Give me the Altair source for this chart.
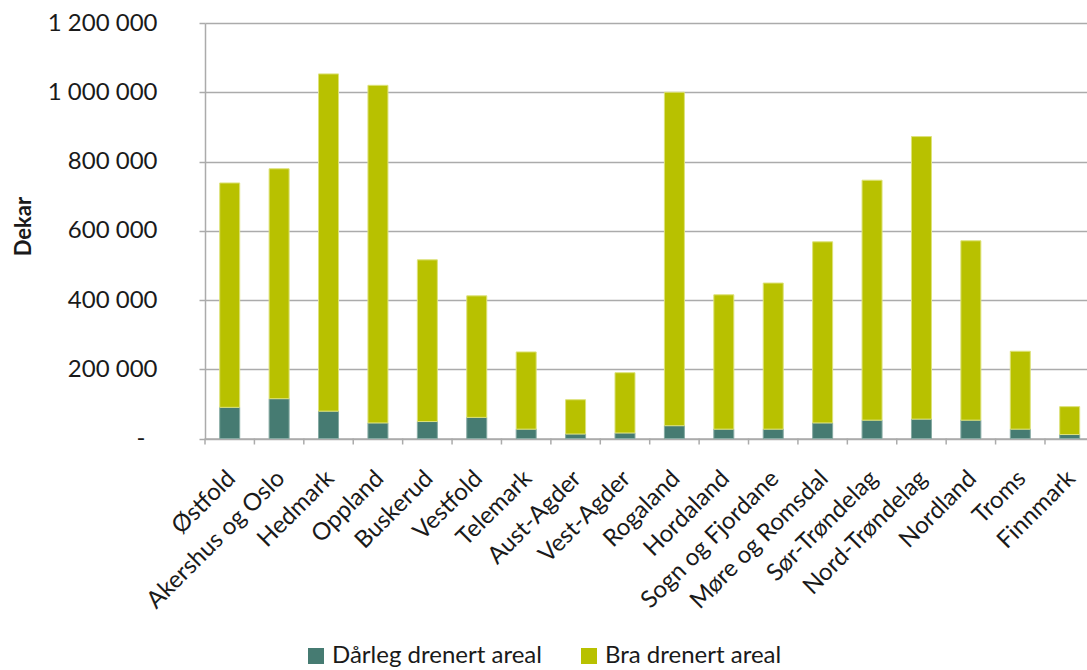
import altair as alt
import pandas as pd

# Drained agricultural area per county (dekar)
counties = [
    "Østfold", "Akershus og Oslo", "Hedmark", "Oppland", "Buskerud",
    "Vestfold", "Telemark", "Aust-Agder", "Vest-Agder", "Rogaland",
    "Hordaland", "Sogn og Fjordane", "Møre og Romsdal", "Sør-Trøndelag",
    "Nord-Trøndelag", "Nordland", "Troms", "Finnmark",
]
poorly_drained = [
    90000, 115000, 79000, 45000, 49000, 61000, 27000, 13000, 16000,
    37000, 27000, 27000, 45000, 53000, 56000, 53000, 27000, 11500,
]
well_drained = [
    648000, 664000, 974000, 975000, 467000, 351000, 223000, 99000, 174000,
    963000, 388000, 422000, 523000, 693000, 816000, 518000, 225000, 80500,
]
series_names = ["Dårleg drenert areal", "Bra drenert areal"]
y_ticks = [0, 200000, 400000, 600000, 800000, 1000000, 1200000]

rows = []
for i, c in enumerate(counties):
    rows.append({"fylke": c, "serie": series_names[0], "dekar": poorly_drained[i], "rekke": 0})
    rows.append({"fylke": c, "serie": series_names[1], "dekar": well_drained[i], "rekke": 1})
df = pd.DataFrame(rows)
ticks_df = pd.DataFrame({"fylke": counties})

W = 882
H = 415.5
FONT = "Lato"
TEXT = "#1a1a1a"
GRID = "#ababab"

x_scale = alt.Scale(domain=counties, range=[0, 889.4], paddingInner=0, paddingOuter=0)

bars = alt.Chart(df).mark_bar(size=20, strokeWidth=1).encode(
    x=alt.X(
        "fylke:N", sort=counties, scale=x_scale, title=None,
        axis=alt.Axis(
            labelAngle=-45, labelAlign="right", labelBaseline="middle",
            labelFontSize=24, labelFont=FONT, labelColor=TEXT,
            labelPadding=36, labelOffset=2, ticks=False,
            domainColor=GRID, domainWidth=1.5, labelLimit=400,
        ),
    ),
    y=alt.Y(
        "dekar:Q", stack="zero", title="Dekar",
        scale=alt.Scale(domain=[0, 1200000], nice=False),
        axis=alt.Axis(
            values=y_ticks,
            labelExpr="datum.value == 0 ? '-' : replace(format(datum.value, ','), regexp(',', 'g'), ' ')",
            labelFontSize=24, labelFont=FONT, labelColor=TEXT,
            labelPadding={"condition": {"test": "datum.value == 0", "value": 54}, "value": 42},
            tickSize=6, tickColor=GRID, tickWidth=1.5,
            domainColor=GRID, domainWidth=1.5,
            gridColor=GRID, gridWidth=1.5,
            titleFont=FONT, titleFontSize=22, titleFontWeight="bold",
            titleColor=TEXT, titleAngle=-90, titleX=-182, titleY=203,
            titleAlign="center", titleBaseline="middle",
        ),
    ),
    color=alt.Color(
        "serie:N",
        scale=alt.Scale(domain=series_names, range=["#467b72", "#b8c100"]),
        legend=alt.Legend(
            title=None, orient="none", direction="horizontal",
            legendX=99, legendY=621,
            symbolType="square", symbolSize=256, symbolStrokeWidth=0,
            labelFont=FONT, labelFontSize=24, labelColor=TEXT,
            labelLimit=400, columnPadding=35, labelOffset=4,
        ),
    ),
    stroke=alt.Stroke(
        "serie:N",
        scale=alt.Scale(domain=series_names, range=["#86aaa3", "#dde27a"]),
        legend=None,
    ),
    order=alt.Order("rekke:Q"),
)

# Category-axis tick marks sit between the bars
tick_start = alt.Chart(ticks_df).mark_rule(color=GRID, strokeWidth=1.5).encode(
    x=alt.X("fylke:N", sort=counties, scale=x_scale, bandPosition=0),
    y=alt.value(H),
    y2=alt.value(H + 6),
)
tick_end = alt.Chart(ticks_df).transform_filter(
    alt.datum.fylke == counties[-1]
).mark_rule(color=GRID, strokeWidth=1.5).encode(
    x=alt.X("fylke:N", sort=counties, scale=x_scale, bandPosition=1),
    y=alt.value(H),
    y2=alt.value(H + 6),
)

chart = alt.layer(bars, tick_start, tick_end).properties(
    width=W, height=H,
    autosize=alt.AutoSizeParams(type="none"),
    padding={"left": 205, "top": 23, "right": 0, "bottom": 231},
    background="white",
).configure_view(stroke=None)

chart.save("out.html", embed_options={"renderer": "svg", "actions": False})
